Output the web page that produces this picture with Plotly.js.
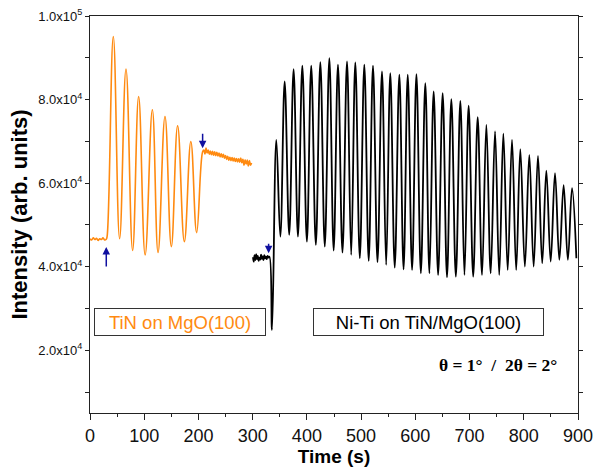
<!DOCTYPE html>
<html>
<head>
<meta charset="utf-8">
<script src="https://cdn.plot.ly/plotly-3.0.1.min.js"></script>
<style>html,body{margin:0;padding:0;background:#fff;}#chart{width:594px;height:475px;}</style>
</head>
<body>
<div id="chart"></div>
<script>
// TiN on MgO(100) — orange series (time in s, intensity in arb. units)
const tinTime = [0, 3, 6, 9, 12, 15, 18, 21, 24, 27, 30, 31.5,
  43, 54.6, 66.4, 78.6, 89.7, 101.7, 115, 125.5, 138.3, 150, 161.6, 174, 186, 196.7,
  207.7, 210, 212, 214, 216, 218, 220, 222, 224, 226, 228, 230, 232, 234, 236, 238, 240,
  242, 244, 246, 248, 250, 252, 254, 256, 258, 260, 262, 264, 266, 268, 270, 272, 274,
  276, 278, 280, 282, 284, 286, 288, 290, 292, 294, 296, 298];
const tinIntensity = [46700, 46400, 46900, 46500, 46800, 46300, 46700, 46500, 46900, 46400, 46600, 47200,
  95100, 46700, 87300, 43870, 80740, 42830, 77560, 43390, 75960, 44820, 73730, 46020, 69970, 48170,
  67500, 67900, 67000, 68400, 67200, 67900, 66900, 67700, 66800, 67600, 66700, 67500, 66600, 67400, 66500, 67200, 66300,
  67000, 66200, 66900, 66000, 66600, 65700, 66400, 65500, 66200, 65400, 66100, 65300, 66000, 65200, 65900, 65100, 65800,
  65000, 66000, 64900, 65700, 64300, 65600, 64600, 65500, 64100, 65400, 64300, 64800];

// Ni-Ti on TiN/MgO(100) — black series
const nitiTime = [300.6, 302, 303.5, 305, 306.5, 308, 309.5, 311, 312.5, 314, 315.5, 317, 318.5, 320,
  321.5, 323, 324.5, 326, 327.5, 329, 331, 335.6,
  343.6, 351, 359, 367.4, 375.5, 383.5, 391.6, 400, 408, 416.5, 424.8, 433, 441.4, 449.4,
  457.3, 465.6, 474, 481.7, 489.3, 497.6, 505.9, 514, 521.9, 530.2, 538.5, 546.2, 553.8, 562,
  570.5, 578.3, 586, 594, 602, 610.2, 618.4, 626, 633.8, 642, 650.4, 658.4, 666.4, 674.7,
  683, 690.6, 698.3, 706.7, 715, 723, 731, 739, 747, 754.7, 762.3, 770.3, 778.3, 786,
  793.6, 802, 810.2, 818.2, 826.2, 834, 841.6, 849.6, 857.6, 865.6, 873.5, 881.3, 889, 897];
const nitiIntensity = [42300, 41200, 42800, 41600, 43000, 41800, 42600, 41400, 42200, 41700, 42900, 41900, 42500, 41600,
  42800, 42000, 42400, 41800, 42600, 42200, 42400, 24870,
  70370, 47220, 84340, 47620, 87310, 47200, 88100, 46000, 88100, 45230, 88980, 44820, 89940, 43870,
  88340, 43390, 89140, 42830, 88900, 42050, 88340, 41400, 88100, 41080, 86740, 40440, 86340, 39800,
  85940, 39400, 85940, 39240, 86100, 38440, 83950, 38440, 81950, 38040, 81560, 37480, 80120, 37640,
  79710, 38040, 78520, 37640, 75810, 38040, 73970, 38440, 72370, 38040, 71820, 39240, 70370, 39240,
  68150, 40040, 66780, 40040, 66540, 40840, 63020, 41240, 62400, 41640, 59530, 41640, 58810, 42050];

const yTickVals = [20000, 40000, 60000, 80000, 100000];
const yTickText = ['2.0x10<sup>4</sup>', '4.0x10<sup>4</sup>', '6.0x10<sup>4</sup>', '8.0x10<sup>4</sup>', '1.0x10<sup>5</sup>'];
const yMinorVals = [10000, 30000, 50000, 70000, 90000];

const ORANGE = '#FF8A10';
const NAVY = '#1010A0';
const AXC = '#222222';

const traces = [
  {x: tinTime, y: tinIntensity, type: 'scatter', mode: 'lines',
   line: {color: ORANGE, width: 1.6, shape: 'spline', smoothing: 1.2}, hoverinfo: 'skip'},
  {x: nitiTime, y: nitiIntensity, type: 'scatter', mode: 'lines',
   line: {color: '#000000', width: 1.8, shape: 'spline', smoothing: 1.1}, hoverinfo: 'skip'}
];

const layout = {
  width: 594, height: 475,
  margin: {l: 90, r: 16, t: 16, b: 62},
  paper_bgcolor: '#ffffff', plot_bgcolor: '#ffffff',
  showlegend: false,
  font: {family: 'Liberation Sans, Arial, sans-serif', color: '#111'},
  xaxis: {
    range: [0, 900], tickmode: 'linear', tick0: 0, dtick: 100,
    ticks: 'outside', ticklen: 6, tickwidth: 1, tickcolor: AXC,
    minor: {tickmode: 'linear', tick0: 0, dtick: 50, ticks: 'outside', ticklen: 3, tickcolor: AXC},
    showline: true, linecolor: AXC, linewidth: 1, mirror: true,
    showgrid: false, zeroline: false,
    tickfont: {size: 18, color: '#111'},
    title: {text: '<b>Time (s)</b>', font: {size: 19, color: '#000'}, standoff: 5}
  },
  yaxis: {
    range: [5000, 100000], tickmode: 'array', tickvals: yTickVals, ticktext: yTickText,
    ticks: 'outside', ticklen: 4, tickwidth: 1, tickcolor: AXC,
    minor: {tickmode: 'array', tickvals: yMinorVals, ticks: 'outside', ticklen: 4, tickcolor: AXC},
    showline: true, linecolor: AXC, linewidth: 1, mirror: 'ticks',
    showgrid: false, zeroline: false,
    tickfont: {size: 13, color: '#111'},
    title: {text: '<b>Intensity (arb. units)</b>', font: {size: 22, color: '#000'}, standoff: 4}
  },
  annotations: [
    {x: 166.5, y: 26780, xref: 'x', yref: 'y', text: 'TiN on MgO(100)', showarrow: false,
     font: {size: 18.5, color: ORANGE}, bordercolor: '#333', borderwidth: 1, borderpad: 1,
     width: 168, height: 24, bgcolor: '#fff'},
    {x: 623.4, y: 26780, xref: 'x', yref: 'y', text: 'Ni-Ti on TiN/MgO(100)', showarrow: false,
     font: {size: 18.5, color: '#000'}, bordercolor: '#333', borderwidth: 1, borderpad: 1,
     width: 227, height: 24, bgcolor: '#fff'},
    {x: 752, y: 16490, xref: 'x', yref: 'y', text: '<b>\u03B8 = 1\u00B0\u00A0 /\u00A0 2\u03B8 = 2\u00B0</b>', showarrow: false,
     font: {size: 17.5, color: '#000', family: 'Liberation Serif, Times New Roman, serif'}},
    {x: 30, y: 44750, xref: 'x', yref: 'y', text: '', showarrow: true, ax: 0, ay: 21,
     arrowhead: 2, arrowsize: 1, arrowwidth: 1.5, arrowcolor: NAVY},
    {x: 207.7, y: 68380, xref: 'x', yref: 'y', text: '', showarrow: true, ax: 0, ay: -16,
     arrowhead: 2, arrowsize: 1, arrowwidth: 1.5, arrowcolor: NAVY},
    {x: 329.4, y: 43240, xref: 'x', yref: 'y', text: '', showarrow: true, ax: 0, ay: -11,
     arrowhead: 2, arrowsize: 1, arrowwidth: 1.5, arrowcolor: NAVY}
  ]
};

Plotly.newPlot('chart', traces, layout, {staticPlot: true, displayModeBar: false});
</script>
</body>
</html>
